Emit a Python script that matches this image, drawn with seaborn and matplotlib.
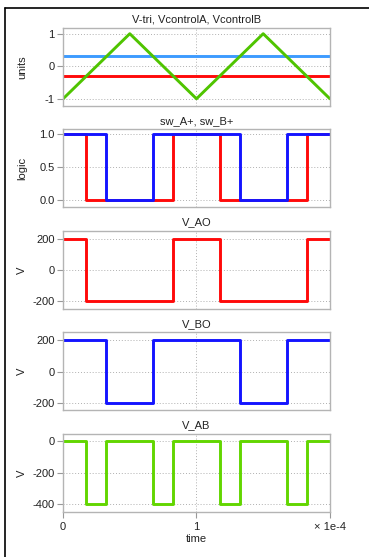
import numpy as np
import pandas as pd
import seaborn as sns
import matplotlib.pyplot as plt
from matplotlib.lines import Line2D

# triangle carrier and control voltages
tri_t = [0, 0.5e-4, 1.0e-4, 1.5e-4, 2.0e-4]
tri_v = [-1, 1, -1, 1, -1]
ctrl_t = [0, 2.0e-4]
ctrlA_v = [0.3, 0.3]
ctrlB_v = [-0.3, -0.3]

# switching edges (step-post)
swA_t = [0, 0.175e-4, 0.825e-4, 1.175e-4, 1.825e-4, 2.0e-4]
swA_v = [1, 0, 1, 0, 1, 1]
swB_t = [0, 0.325e-4, 0.675e-4, 1.325e-4, 1.675e-4, 2.0e-4]
swB_v = [1, 0, 1, 0, 1, 1]
vAO_v = [200, -200, 200, -200, 200, 200]
vBO_v = [200, -200, 200, -200, 200, 200]
vAB_t = [0, 0.175e-4, 0.325e-4, 0.675e-4, 0.825e-4, 1.175e-4, 1.325e-4,
         1.675e-4, 1.825e-4, 2.0e-4]
vAB_v = [0, -400, 0, -400, 0, -400, 0, -400, 0, 0]

titles = ['V-tri, VcontrolA, VcontrolB', 'sw_A+, sw_B+', 'V_AO', 'V_BO', 'V_AB']
ylabels = ['units', 'logic', 'V', 'V', 'V']
yticks = [[-1, 0, 1], [0, 0.5, 1.0], [-200, 0, 200], [-200, 0, 200], [-400, -200, 0]]
yticklabels = [['-1', '0', '1'], ['0.0', '0.5', '1.0'], ['-200', '0', '200'],
               ['-200', '0', '200'], ['-400', '-200', '0']]
ylims = [(-1.22, 1.18), (-0.11, 1.065), (-250, 252), (-250, 252), (-450, 48)]

RED = '#ff0a0a'
BLUE = '#1414ff'
LBLUE = '#3d9bff'
GREEN = '#4fc400'
GREEN2 = '#62d600'

sns.set_style('white')
plt.rcParams['font.family'] = ['Liberation Sans', 'DejaVu Sans']

fig, axes = plt.subplots(5, 1, figsize=(3.69, 5.57), dpi=100, sharex=True)
fig.subplots_adjust(left=0.171, right=0.894, top=0.950, bottom=0.081, hspace=0.30)

lw = 2.1
kw = dict(estimator=None, sort=False, legend=False)

def draw(ax, t, v, color, steps=False):
    df = pd.DataFrame({'t': t, 'v': v})
    extra = {'drawstyle': 'steps-post'} if steps else {}
    sns.lineplot(data=df, x='t', y='v', ax=ax, color=color, linewidth=lw, **kw, **extra)

draw(axes[0], ctrl_t, ctrlA_v, LBLUE)
draw(axes[0], ctrl_t, ctrlB_v, RED)
draw(axes[0], tri_t, tri_v, GREEN)

draw(axes[1], swA_t, swA_v, RED, steps=True)
draw(axes[1], swB_t, swB_v, BLUE, steps=True)

draw(axes[2], swA_t, vAO_v, RED, steps=True)
draw(axes[3], swB_t, vBO_v, BLUE, steps=True)
draw(axes[4], vAB_t, vAB_v, GREEN2, steps=True)

for i, ax in enumerate(axes):
    ax.set_title(titles[i], fontsize=8, pad=4, color='#222222')
    ax.set_ylabel(ylabels[i], fontsize=8, color='#222222')
    ax.yaxis.set_label_coords(-0.135, 0.5)
    ax.set_xlabel('')
    ax.set_ylim(*ylims[i])
    ax.set_yticks(yticks[i])
    ax.set_yticklabels(yticklabels[i])
    ax.set_xlim(0, 2.0e-4)
    ax.set_xticks([0, 1e-4, 2e-4])
    ax.grid(True, color='#b0b0b0', linestyle=(0, (1, 2)), linewidth=0.7)
    ax.set_axisbelow(True)
    for s in ax.spines.values():
        s.set_color('#b4b4b4')
        s.set_linewidth(1.0)
    ax.tick_params(axis='y', direction='out', length=4, width=0.8, color='#999999',
                   labelsize=8, labelcolor='#222222', pad=2, left=True)
    ax.tick_params(axis='x', direction='out', length=4, width=0.8, color='#999999',
                   labelsize=8, labelcolor='#222222', pad=3, bottom=(i == 4))

axes[4].set_xticklabels(['0', '1', '\u00d7 1e-4'])
axes[4].set_xlabel('time', fontsize=8, color='#222222', labelpad=2)

# frame lines around the figure (top and left)
fig.add_artist(Line2D([0.0144, 1.0], [0.9865, 0.9865], color='black', linewidth=1.2,
                      transform=fig.transFigure))
fig.add_artist(Line2D([0.0144, 0.0144], [0.0, 0.9865], color='black', linewidth=1.2,
                      transform=fig.transFigure))

fig.savefig('out.png', dpi=100)
